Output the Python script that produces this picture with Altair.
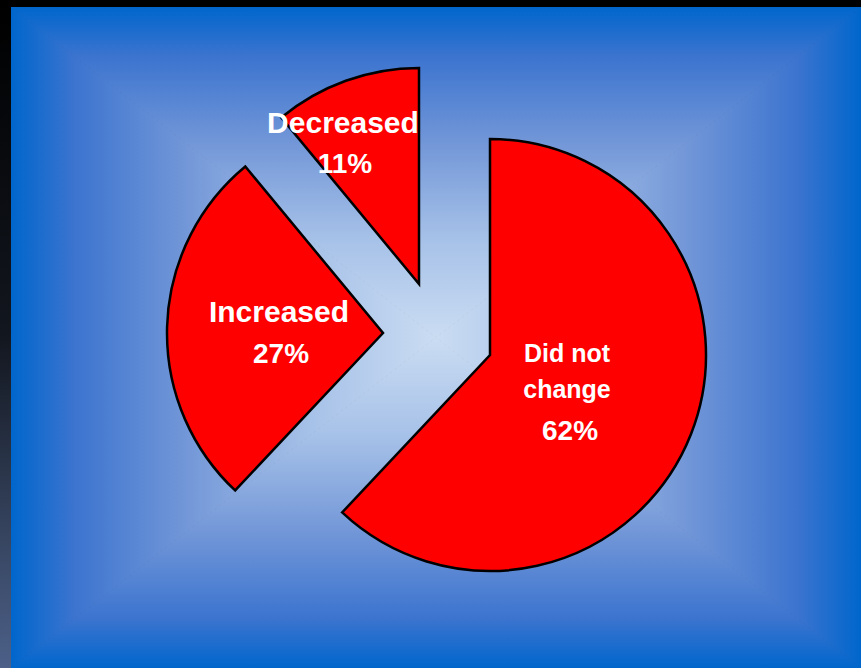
import altair as alt
import pandas as pd

# ---------------- data ----------------
categories = ["Did not change", "Increased", "Decreased"]
values = [62, 27, 11]
name_lines = ["Did not\nchange", "Increased", "Decreased"]
pct_labels = ["62%", "27%", "11%"]

# ---------------- layout / style ----------------
W, H = 861, 668
LEFT, TOP = 11, 7
CX, CY = (LEFT + W) / 2, (TOP + H) / 2
RADIUS = 216

# exploded slice vertices (pixel positions of each slice's tip)
slice_pos = {"Did not change": (490, 355), "Increased": (383, 333), "Decreased": (419, 284)}
# label offsets relative to slice vertex (x centre, first baseline)
name_off = {"Did not change": (77, 7), "Increased": (-104, -11), "Decreased": (-76, -151)}
pct_off = {"Did not change": (80, 85), "Increased": (-102, 30), "Decreased": (-74, -111)}
name_size = {"Did not change": 25, "Increased": 30, "Decreased": 30}

BLUE_STOPS = [(0.0, "#0066CC"), (0.15, "#3C74CF"), (0.42, "#7498D8"),
              (0.7, "#A6C1E8"), (1.0, "#CADCF2")]


def grad(x1, y1, x2, y2, stops=BLUE_STOPS):
    return alt.LinearGradient(
        gradient="linear",
        stops=[alt.GradientStop(offset=o, color=c) for o, c in stops],
        x1=x1, y1=y1, x2=x2, y2=y2,
    )


def by_cat(mapping, i=None):
    items = list(mapping.items())
    def v(val):
        return val if i is None else val[i]
    expr = str(v(items[-1][1]))
    for k, val in reversed(items[:-1]):
        expr = f"(datum.category === '{k}' ? {v(val)} : {expr})"
    return expr


one = alt.Data(values=[{}])

# ---------------- background ----------------
left_strip = alt.Chart(one).mark_rect(
    color=grad(0, 0, 0, 1, [(0, "#000000"), (0.5, "#12161E"), (0.8, "#36445F"), (1, "#4C6088")])
).encode(x=alt.value(0), x2=alt.value(LEFT), y=alt.value(0), y2=alt.value(H))

top_strip = alt.Chart(one).mark_rect(color="#000000").encode(
    x=alt.value(0), x2=alt.value(W), y=alt.value(0), y2=alt.value(TOP))

tri_top = pd.DataFrame({"x": [LEFT, CX, W], "y": [TOP, CY, TOP], "y2": [TOP] * 3})
tri_bot = pd.DataFrame({"x": [LEFT, CX, W], "y": [H, CY, H], "y2": [H] * 3})
tri_left = pd.DataFrame({"y": [TOP, CY, H], "x": [LEFT, CX, LEFT], "x2": [LEFT] * 3})
tri_right = pd.DataFrame({"y": [TOP, CY, H], "x": [W, CX, W], "x2": [W] * 3})


def vtri(df, g):
    return alt.Chart(df).mark_area(fill=g, stroke=g, strokeWidth=1, orient="vertical").encode(
        x=alt.X("x:Q", scale=None, axis=None),
        y=alt.Y("y:Q", scale=None, axis=None, stack=None),
        y2="y2:Q",
    )


def htri(df, g):
    return alt.Chart(df).mark_area(fill=g, stroke=g, strokeWidth=1, orient="horizontal").encode(
        y=alt.Y("y:Q", scale=None, axis=None),
        x=alt.X("x:Q", scale=None, axis=None, stack=None),
        x2="x2:Q",
    )


bg = [
    vtri(tri_top, grad(0, 0, 0, 1)),
    vtri(tri_bot, grad(0, 1, 0, 0)),
    htri(tri_left, grad(0, 0, 1, 0)),
    htri(tri_right, grad(1, 0, 0, 0)),
    left_strip,
    top_strip,
]

# ---------------- pie ----------------
df = pd.DataFrame({"category": categories, "value": values,
                   "name": name_lines, "pct": pct_labels})

pie = (
    alt.Chart(df)
    .transform_joinaggregate(total="sum(value)")
    .transform_window(cum="sum(value)", frame=[None, 0],
                      sort=[alt.SortField("value", order="descending")])
    .transform_calculate(
        start="2*PI*(datum.cum - datum.value)/datum.total",
        end="2*PI*datum.cum/datum.total",
        cx=by_cat(slice_pos, 0),
        cy=by_cat(slice_pos, 1),
    )
    .transform_calculate(
        nx=f"datum.cx + {by_cat(name_off, 0)}",
        ny=f"datum.cy + {by_cat(name_off, 1)}",
        px=f"datum.cx + {by_cat(pct_off, 0)}",
        py=f"datum.cy + {by_cat(pct_off, 1)}",
        nsize=by_cat(name_size),
    )
)

arcs = pie.mark_arc(radius=RADIUS, fill="#FF0000", stroke="#000000", strokeWidth=2.5).encode(
    x=alt.X("cx:Q", scale=None, axis=None, stack=None),
    y=alt.Y("cy:Q", scale=None, axis=None, stack=None),
    theta=alt.Theta("start:Q", scale=None, stack=None),
    theta2="end:Q",
)

text_style = dict(color="white", fontWeight="bold", font="Liberation Sans",
                  align="center", baseline="alphabetic")

names = pie.mark_text(lineBreak="\n", lineHeight=36, **text_style).encode(
    x=alt.X("nx:Q", scale=None, axis=None, stack=None),
    y=alt.Y("ny:Q", scale=None, axis=None, stack=None),
    text="name:N",
    size=alt.Size("nsize:Q", scale=None, legend=None),
)

pcts = pie.mark_text(fontSize=28, **text_style).encode(
    x=alt.X("px:Q", scale=None, axis=None, stack=None),
    y=alt.Y("py:Q", scale=None, axis=None, stack=None),
    text="pct:N",
)

chart = (
    alt.layer(*bg, arcs, names, pcts)
    .properties(width=W, height=H, padding=0, autosize="none", background="#000000")
    .configure_view(strokeWidth=0)
)

chart.save("out.html", embed_options={"renderer": "svg", "actions": False})
